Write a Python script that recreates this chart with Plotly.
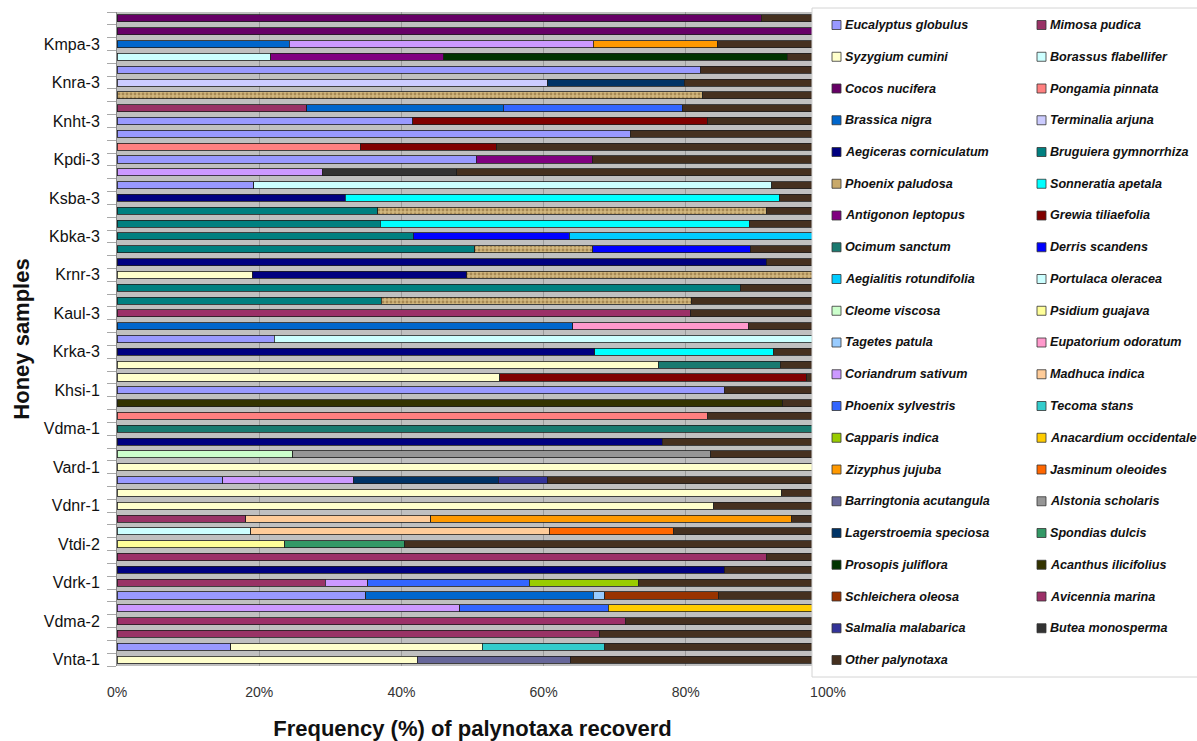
import plotly.graph_objects as go

# ---------------- data ----------------
taxa = [
    "Eucalyptus globulus", "Mimosa pudica",
    "Syzygium cumini", "Borassus flabellifer",
    "Cocos nucifera", "Pongamia pinnata",
    "Brassica nigra", "Terminalia arjuna",
    "Aegiceras corniculatum", "Bruguiera gymnorrhiza",
    "Phoenix paludosa", "Sonneratia apetala",
    "Antigonon leptopus", "Grewia tiliaefolia",
    "Ocimum sanctum", "Derris scandens",
    "Aegialitis rotundifolia", "Portulaca oleracea",
    "Cleome viscosa", "Psidium guajava",
    "Tagetes patula", "Eupatorium odoratum",
    "Coriandrum sativum", "Madhuca indica",
    "Phoenix sylvestris", "Tecoma stans",
    "Capparis indica", "Anacardium occidentale",
    "Zizyphus jujuba", "Jasminum oleoides",
    "Barringtonia acutangula", "Alstonia scholaris",
    "Lagerstroemia speciosa", "Spondias dulcis",
    "Prosopis juliflora", "Acanthus ilicifolius",
    "Schleichera oleosa", "Avicennia marina",
    "Salmalia malabarica", "Butea monosperma",
    "Other palynotaxa",
]

taxa_colors = [
    "#9999FF", "#993366",
    "#FFFFCC", "#CCFFFF",
    "#660066", "#FF8080",
    "#0066CC", "#CCCCFF",
    "#000080", "#008080",
    "#D2B77E", "#00FFFF",
    "#800080", "#800000",
    "#1A7A70", "#0000FF",
    "#00CCFF", "#CCFFFF",
    "#CCFFCC", "#FFFF99",
    "#99CCFF", "#FF99CC",
    "#CC99FF", "#FFCC99",
    "#3366FF", "#33CCCC",
    "#99CC00", "#FFCC00",
    "#FF9900", "#FF6600",
    "#666699", "#969696",
    "#003366", "#339966",
    "#003300", "#333300",
    "#993300", "#9C3068",
    "#333399", "#333333",
    "#45301F",
]

# labels shown on every third bar (top to bottom)
sample_labels = ["Kmpa-3", "Knra-3", "Knht-3", "Kpdi-3", "Ksba-3", "Kbka-3",
                 "Krnr-3", "Kaul-3", "Krka-3", "Khsi-1", "Vdma-1", "Vard-1",
                 "Vdnr-1", "Vtdi-2", "Vdrk-1", "Vdma-2", "Vnta-1"]

# frequency (%) of each taxon in every honey sample, top bar first
compositions = [
    [("Cocos nucifera", 90.6), ("Other palynotaxa", 9.4)],
    [("Cocos nucifera", 100)],
    [("Brassica nigra", 24.2), ("Coriandrum sativum", 42.8), ("Zizyphus jujuba", 17.4), ("Other palynotaxa", 15.6)],
    [("Borassus flabellifer", 21.6), ("Antigonon leptopus", 24.3), ("Prosopis juliflora", 48.4), ("Other palynotaxa", 5.7)],
    [("Eucalyptus globulus", 82.1), ("Other palynotaxa", 17.9)],
    [("Terminalia arjuna", 60.5), ("Lagerstroemia speciosa", 19.3), ("Other palynotaxa", 20.2)],
    [("Phoenix paludosa", 82.4), ("Other palynotaxa", 17.6)],
    [("Mimosa pudica", 26.7), ("Brassica nigra", 27.6), ("Phoenix sylvestris", 25.2), ("Other palynotaxa", 20.5)],
    [("Eucalyptus globulus", 41.6), ("Grewia tiliaefolia", 41.5), ("Other palynotaxa", 16.9)],
    [("Eucalyptus globulus", 72.2), ("Other palynotaxa", 27.8)],
    [("Pongamia pinnata", 34.2), ("Grewia tiliaefolia", 19.2), ("Other palynotaxa", 46.6)],
    [("Eucalyptus globulus", 50.5), ("Antigonon leptopus", 16.4), ("Other palynotaxa", 33.1)],
    [("Coriandrum sativum", 28.9), ("Butea monosperma", 18.9), ("Other palynotaxa", 52.2)],
    [("Eucalyptus globulus", 19.2), ("Portulaca oleracea", 72.9), ("Other palynotaxa", 7.9)],
    [("Aegiceras corniculatum", 32.1), ("Sonneratia apetala", 61.1), ("Other palynotaxa", 6.8)],
    [("Bruguiera gymnorrhiza", 36.7), ("Phoenix paludosa", 54.6), ("Other palynotaxa", 8.7)],
    [("Bruguiera gymnorrhiza", 37.0), ("Sonneratia apetala", 51.9), ("Other palynotaxa", 11.1)],
    [("Bruguiera gymnorrhiza", 41.7), ("Derris scandens", 21.9), ("Aegialitis rotundifolia", 36.4)],
    [("Bruguiera gymnorrhiza", 50.3), ("Phoenix paludosa", 16.6), ("Derris scandens", 22.2), ("Other palynotaxa", 10.9)],
    [("Aegiceras corniculatum", 91.4), ("Other palynotaxa", 8.6)],
    [("Syzygium cumini", 19.0), ("Aegiceras corniculatum", 30.2), ("Phoenix paludosa", 50.8)],
    [("Bruguiera gymnorrhiza", 87.7), ("Other palynotaxa", 12.3)],
    [("Bruguiera gymnorrhiza", 37.2), ("Phoenix paludosa", 43.6), ("Other palynotaxa", 19.2)],
    [("Avicennia marina", 80.7), ("Other palynotaxa", 19.3)],
    [("Brassica nigra", 64.1), ("Eupatorium odoratum", 24.7), ("Other palynotaxa", 11.2)],
    [("Eucalyptus globulus", 22.1), ("Portulaca oleracea", 77.9)],
    [("Aegiceras corniculatum", 67.2), ("Sonneratia apetala", 25.1), ("Other palynotaxa", 7.7)],
    [("Syzygium cumini", 76.1), ("Ocimum sanctum", 17.2), ("Other palynotaxa", 6.7)],
    [("Syzygium cumini", 53.8), ("Grewia tiliaefolia", 43.2), ("Other palynotaxa", 3.0)],
    [("Eucalyptus globulus", 85.4), ("Other palynotaxa", 14.6)],
    [("Acanthus ilicifolius", 93.6), ("Other palynotaxa", 6.4)],
    [("Pongamia pinnata", 83.1), ("Other palynotaxa", 16.9)],
    [("Ocimum sanctum", 100)],
    [("Aegiceras corniculatum", 76.7), ("Other palynotaxa", 23.3)],
    [("Cleome viscosa", 24.7), ("Alstonia scholaris", 58.8), ("Other palynotaxa", 16.5)],
    [("Syzygium cumini", 100)],
    [("Eucalyptus globulus", 14.9), ("Coriandrum sativum", 18.3), ("Lagerstroemia speciosa", 20.4), ("Salmalia malabarica", 7.0), ("Other palynotaxa", 39.4)],
    [("Syzygium cumini", 93.5), ("Other palynotaxa", 6.5)],
    [("Syzygium cumini", 83.9), ("Other palynotaxa", 16.1)],
    [("Mimosa pudica", 18.1), ("Madhuca indica", 26.0), ("Zizyphus jujuba", 50.8), ("Other palynotaxa", 5.1)],
    [("Borassus flabellifer", 18.8), ("Madhuca indica", 42.0), ("Jasminum oleoides", 17.4), ("Other palynotaxa", 21.8)],
    [("Psidium guajava", 23.6), ("Spondias dulcis", 16.9), ("Other palynotaxa", 59.5)],
    [("Avicennia marina", 91.3), ("Other palynotaxa", 8.7)],
    [("Aegiceras corniculatum", 85.5), ("Other palynotaxa", 14.5)],
    [("Mimosa pudica", 29.3), ("Coriandrum sativum", 6.0), ("Phoenix sylvestris", 22.7), ("Capparis indica", 15.4), ("Other palynotaxa", 26.6)],
    [("Eucalyptus globulus", 35.0), ("Brassica nigra", 32.0), ("Tagetes patula", 1.6), ("Schleichera oleosa", 16.0), ("Other palynotaxa", 15.4)],
    [("Coriandrum sativum", 48.2), ("Phoenix sylvestris", 20.9), ("Anacardium occidentale", 30.9)],
    [("Avicennia marina", 71.5), ("Other palynotaxa", 28.5)],
    [("Mimosa pudica", 67.9), ("Other palynotaxa", 32.1)],
    [("Eucalyptus globulus", 16.0), ("Syzygium cumini", 35.4), ("Tecoma stans", 17.2), ("Other palynotaxa", 31.4)],
    [("Syzygium cumini", 42.2), ("Barringtonia acutangula", 21.6), ("Other palynotaxa", 36.2)],
]

x_ticks = [0, 20, 40, 60, 80, 100]

# ---------------- figure ----------------
FONT = "Liberation Sans, Arial, sans-serif"
W, H = 1197, 741
ML, MR, MT, MB = 117, 369, 12, 75

n = len(compositions)
ypos = list(range(n))

fig = go.Figure()
for name, col in zip(taxa, taxa_colors):
    xs = [dict(c).get(name) for c in compositions]
    marker = dict(color=col, line=dict(color="#1e1e1e", width=0.8))
    if name == "Phoenix paludosa":
        marker["pattern"] = dict(shape=".", fgcolor="#7A5A2A", bgcolor=col,
                                 size=4, solidity=0.4)
    fig.add_trace(go.Bar(orientation="h", x=xs, y=ypos, name=name,
                         marker=marker, showlegend=False, hoverinfo="skip"))

lab_pos = [i for i in ypos if (i + 1) % 3 == 0]

fig.update_layout(
    width=W, height=H,
    margin=dict(l=ML, r=MR, t=MT, b=MB, pad=0),
    barmode="stack", bargap=0.45,
    plot_bgcolor="#C0C0C0", paper_bgcolor="white",
    font=dict(family=FONT, color="#222"),
    xaxis=dict(range=[0, 100], tickvals=x_ticks, automargin=False,
               ticktext=[f"{v}%" for v in x_ticks],
               showgrid=True, gridcolor="#9A9A9A", gridwidth=1,
               zeroline=False, ticks="", ticklabelstandoff=16,
               tickfont=dict(size=14, color="#333", family=FONT),
               title=dict(text="Frequency (%) of palynotaxa recoverd",
                          font=dict(size=22, family=FONT, color="#111", weight="bold"),
                          standoff=22)),
    yaxis=dict(range=[n - 0.5, -0.5], tickvals=lab_pos, ticktext=sample_labels,
               automargin=False,
               showgrid=False, zeroline=False, ticks="", ticklabelstandoff=13,
               showline=True, linecolor="#8A8A8A", linewidth=1,
               tickfont=dict(size=16, color="#111", family=FONT),
               minor=dict(ticks="outside", ticklen=9, tickcolor="#A8A8A8",
                          tick0=0.5, dtick=1, showgrid=False),
               title=dict(text="Honey samples",
                          font=dict(size=22, family=FONT, color="#111", weight="bold"),
                          standoff=8)),
)

# ---------------- manual two-column legend ----------------
PW = W - ML - MR
PH = H - MT - MB


def fx(px):
    return (px - ML) / PW


def fy(py):
    return 1 - (py - MT) / PH


shapes = [dict(type="rect", xref="paper", yref="paper", layer="above",
               x0=fx(812), x1=fx(1199), y0=fy(677), y1=fy(8),
               fillcolor="white", line=dict(color="#D4D4D4", width=1))]
annotations = []
col_x = [832, 1037]
row0, row_step = 25, 31.75
for i, (name, col) in enumerate(zip(taxa, taxa_colors)):
    r, c = divmod(i, 2)
    cy = row0 + r * row_step
    sx = col_x[c]
    shapes.append(dict(type="rect", xref="paper", yref="paper", layer="above",
                       x0=fx(sx), x1=fx(sx + 9), y0=fy(cy + 4.5), y1=fy(cy - 4.5),
                       fillcolor=("#C8A96A" if name == "Phoenix paludosa" else col),
                       line=dict(color="#333", width=0.8)))
    annotations.append(dict(xref="paper", yref="paper", x=fx(sx + 11), y=fy(cy),
                            xanchor="left", yanchor="middle", showarrow=False,
                            text=f"<b><i>{name}</i></b>",
                            font=dict(size=12.6, family=FONT, color="#111")))

fig.update_layout(shapes=shapes, annotations=annotations)

fig.write_html("out.html",
               config={"displayModeBar": False},
               post_script="document.body.style.margin='0px';"
                           "document.body.style.overflow='hidden';")
